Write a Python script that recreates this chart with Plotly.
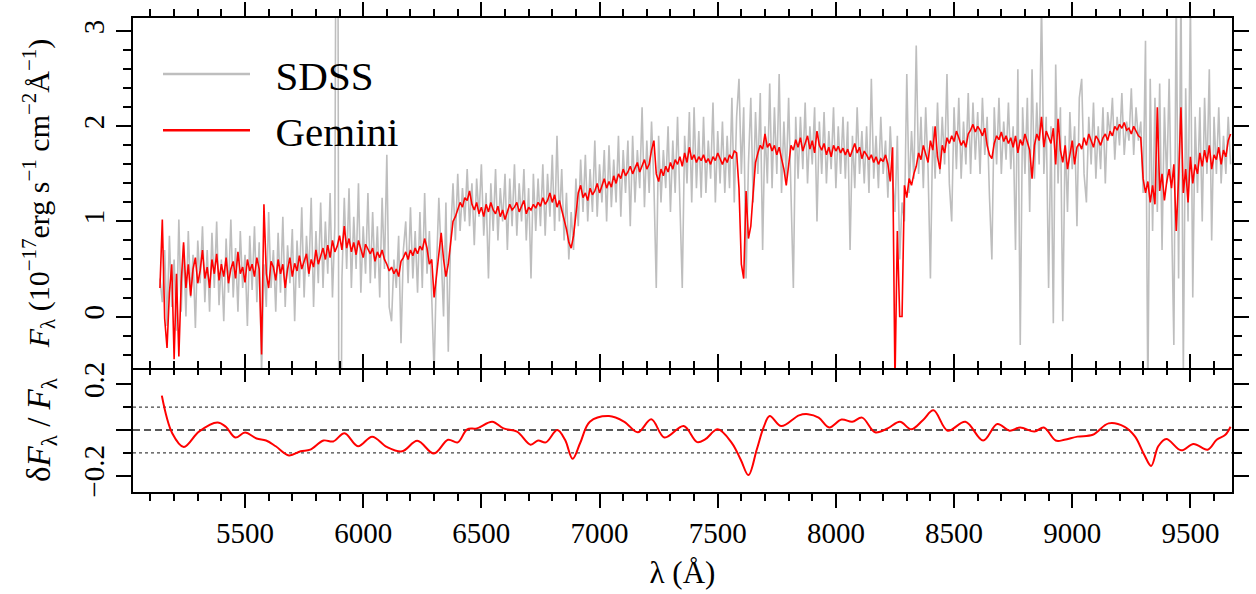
import numpy as np
import plotly.graph_objects as go

# ---------------- data ----------------
WL_START = 5140      # first wavelength of the flux arrays (Angstrom)
WL_STEP = 10         # sampling step of the flux arrays (Angstrom)

SDSS_FLUX = [
    0.40, 0.15, 0.70, -0.10, 0.85, 0.10, 0.60, -0.15, 1.02, 0.05,
    0.75, 0.00, 0.90, 0.20, 0.65, -0.12, 0.80, 0.35, 0.95, 0.15,
    0.70, 0.05, 0.88, 0.30, 1.00, 0.12, 0.60, -0.05, 0.82, 0.25,
    1.02, 0.20, 0.72, 0.05, 0.90, 0.30, 0.65, -0.10, 0.85, 0.28,
    0.95, 0.15, 0.78, -0.60, 0.55, 0.10, 1.10, 0.30, 0.70, 0.05,
    0.88, 0.25, 1.05, 0.10, 0.75, 0.35, 0.92, -0.05, 0.80, 0.30,
    1.15, 0.20, 0.85, 0.42, 1.25, 0.10, 0.90, 0.35, 1.20, 0.30,
    1.00, 0.45, 1.30, 0.20, 0.95, 8.00, -5.00, 0.40, 1.25, 0.50,
    1.35, 0.30, 1.05, 0.50, 1.40, 0.25, 0.95, 0.45, 1.30, 0.35,
    1.10, 0.40, 0.95, 0.20, 1.25, 0.50, 1.70, 0.10, -0.05, 0.60,
    0.30, 0.85, -0.28, 0.70, 1.00, 0.35, 1.15, 0.40, 0.90, 0.25,
    1.10, 0.30, 1.30, 0.45, 0.90, 0.20, -0.60, 0.50, 1.25, 0.65,
    0.00, 1.20, -0.37, 0.85, 1.40, 0.80, 1.50, 0.90, 1.35, 1.00,
    1.55, 0.95, 1.40, 0.75, 1.45, 1.05, 1.60, 0.85, 1.30, 0.40,
    1.40, 0.90, 1.55, 0.80, 1.35, 1.00, 1.50, 0.70, 1.45, 0.95,
    1.60, 0.85, 1.40, 1.00, 1.55, 0.80, 1.35, 0.40, 1.50, 0.90,
    1.45, 0.95, 1.60, 0.85, 1.50, 1.05, 1.70, 0.90, 1.90, 1.00,
    1.55, 0.80, 1.30, 0.60, 1.10, 0.70, 1.45, 0.95, 1.65, 1.10,
    1.70, 1.00, 1.55, 1.10, 1.85, 1.05, 1.60, 1.20, 1.75, 1.00,
    1.80, 1.15, 1.65, 1.20, 1.90, 1.05, 1.75, 1.30, 1.85, 0.95,
    1.90, 1.20, 1.75, 1.35, 2.20, 1.15, 1.85, 1.30, 2.05, 1.40,
    0.30, 1.90, 1.20, 1.75, 1.35, 2.00, 1.10, 1.85, 1.30, 2.10,
    1.25, 0.30, 1.90, 1.40, 2.15, 1.20, 2.20, 1.35, 1.95, 1.25,
    2.10, 1.30, 1.85, 1.45, 2.25, 1.20, 1.95, 1.40, 2.05, 1.30,
    1.90, 1.35, 2.30, 1.20, 2.10, 2.50, 1.50, 2.20, 0.40, 1.60,
    2.30, 1.20, 2.15, 1.50, 2.35, 0.70, 2.00, 1.40, 2.45, 1.35,
    2.20, 1.50, 2.55, 1.30, 2.05, 1.45, 2.30, 1.35, 0.30, 2.10,
    1.45, 2.10, 1.55, 2.25, 1.40, 2.00, 1.60, 2.20, 1.00, 2.05,
    1.50, 2.15, 1.40, 1.95, 1.55, 2.20, 1.35, 2.00, 1.50, 2.10,
    1.45, 2.05, 0.70, 1.90, 1.35, 2.20, 1.50, 1.95, 1.40, 2.00,
    1.30, 2.50, 1.45, 1.90, 1.35, 2.10, 1.50, 1.85, 1.25, 2.00,
    1.45, 1.10, 1.90, 0.60, 1.20, 1.00, 2.55, 1.30, 1.95, 1.45,
    2.85, 1.50, 2.10, 1.35, 2.20, 1.55, 0.40, 2.00, 1.45, 2.25,
    1.50, 2.10, 1.60, 2.55, 1.40, 1.00, 2.20, 1.55, 2.30, 1.45,
    2.05, 1.60, 2.35, 1.50, 2.25, 1.65, 2.15, 1.50, 2.30, 1.70,
    2.10, 1.25, 0.60, 2.20, 1.60, 2.30, 1.50, 2.05, 1.65, 2.25,
    1.55, 2.00, 0.70, 2.60, -0.30, 2.20, 1.50, 2.30, 1.10, 2.60,
    1.45, 2.25, 1.60, 3.30, 1.50, 2.10, 0.30, 2.00, -0.07, 2.65,
    1.40, 2.20, -0.05, 1.90, 1.10, 2.15, 1.55, 2.00, 0.95, 2.30,
    2.50, 1.50, 1.20, 2.10, 1.60, 2.25, 1.45, 2.00, 1.55, 2.20,
    1.40, 2.15, 1.90, 2.30, 1.65, 2.10, 1.80, 2.35, 1.70, 2.05,
    1.85, 2.40, 1.70, 2.20, 1.85, 2.05, 1.30, 2.90, -0.90, 2.50,
    0.90, 2.30, 1.10, 2.45, 0.70, 2.20, 1.40, 2.50, 0.90, -0.30,
    3.40, 0.40, 3.50, -0.60, 2.40, 1.00, 3.30, 0.20, 2.10, 1.30,
    2.20, 1.00, 2.30, 1.50, 2.60, 0.80, 2.10, 1.50, 2.20, 1.40,
    1.90, 1.50, 2.10, 1.60,
]

GEMINI_FLUX = [
    0.30, 1.02, -0.02, -0.33, 0.25, 0.55, -0.45, 0.45, -0.42, 0.36,
    0.78, 0.30, 0.55, 0.22, 0.50, 0.62, 0.35, 0.48, 0.70, 0.40,
    0.52, 0.30, 0.60, 0.45, 0.66, 0.38, 0.55, 0.42, 0.62, 0.35,
    0.50, 0.58, 0.40, 0.68, 0.45, 0.52, 0.36, 0.60, 0.48, 0.55,
    0.42, 0.62, 0.50, -0.40, 1.18, 0.45, 0.30, 0.58, 0.52, 0.38,
    0.60, 0.45, 0.55, 0.30, 0.50, 0.62, 0.42, 0.56, 0.48, 0.64,
    0.50, 0.58, 0.66, 0.45, 0.60, 0.52, 0.70, 0.55, 0.63, 0.72,
    0.60, 0.75, 0.62, 0.80, 0.68, 0.74, 0.85, 0.70, 0.95, 0.72,
    0.82, 0.68, 0.78, 0.65, 0.80, 0.72, 0.62, 0.76, 0.70, 0.66,
    0.72, 0.58, 0.68, 0.62, 0.70, 0.60, 0.55, 0.48, 0.52, 0.45,
    0.50, 0.42, 0.58, 0.62, 0.68, 0.60, 0.70, 0.64, 0.72, 0.66,
    0.74, 0.70, 0.82, 0.72, 0.55, 0.60, 0.20, 0.45, 0.70, 0.88,
    0.60, 0.42, 0.55, 0.80, 1.00, 1.05, 1.12, 1.20, 1.15, 1.25,
    1.22, 1.32, 1.18, 1.12, 1.20, 1.08, 1.15, 1.05, 1.18, 1.10,
    1.20, 1.12, 1.08, 1.16, 1.05, 1.12, 1.02, 1.10, 1.18, 1.12,
    1.15, 1.20, 1.10, 1.16, 1.22, 1.08, 1.15, 1.12, 1.18, 1.14,
    1.20, 1.16, 1.25, 1.18, 1.22, 1.30, 1.20, 1.28, 1.15, 1.22,
    1.12, 1.05, 0.92, 0.78, 0.72, 0.85, 1.10, 1.30, 1.38, 1.25,
    1.30, 1.22, 1.35, 1.28, 1.32, 1.40, 1.30, 1.38, 1.45, 1.35,
    1.42, 1.36, 1.48, 1.40, 1.50, 1.45, 1.55, 1.48, 1.52, 1.58,
    1.50, 1.56, 1.62, 1.52, 1.58, 1.65, 1.55, 1.60, 1.75, 1.85,
    1.50, 1.42, 1.55, 1.48, 1.58, 1.52, 1.62, 1.55, 1.65, 1.60,
    1.68, 1.58, 1.72, 1.62, 1.78, 1.65, 1.70, 1.62, 1.68, 1.64,
    1.70, 1.62, 1.66, 1.60, 1.68, 1.64, 1.72, 1.65, 1.60, 1.67,
    1.62, 1.70, 1.66, 1.74, 1.72, 1.35, 0.55, 0.40, 1.32, 0.82,
    0.95, 1.30, 1.62, 1.72, 1.80, 1.76, 1.92, 1.78, 1.82, 1.74,
    1.80, 1.70, 1.78, 1.66, 1.55, 1.38, 1.62, 1.80, 1.75, 1.86,
    1.78, 1.88, 1.74, 1.82, 1.90, 1.76, 1.85, 1.72, 1.95, 1.80,
    1.75, 1.82, 1.70, 1.78, 1.68, 1.80, 1.74, 1.79, 1.72, 1.77,
    1.70, 1.76, 1.68, 1.75, 1.82, 1.72, 1.78, 1.66, 1.74, 1.70,
    1.65, 1.70, 1.62, 1.68, 1.60, 1.66, 1.63, 1.70, 1.60, 1.42,
    1.78, -0.70, 0.90, 0.00, 0.00, 1.38, 1.25, 1.45, 1.38, 1.50,
    1.58, 1.72, 1.65, 1.80, 1.70, 1.62, 1.85, 1.75, 2.00, 1.68,
    1.55, 1.80, 1.72, 1.88, 1.82, 1.90, 1.84, 1.95, 1.88, 1.80,
    1.85, 1.78, 1.92, 1.96, 2.02, 1.94, 2.00, 1.96, 1.90, 1.98,
    1.80, 1.70, 1.66, 1.82, 1.90, 1.86, 1.94, 1.84, 1.90, 1.82,
    1.88, 1.78, 1.90, 1.72, 1.86, 1.80, 1.92, 1.84, 1.75, 1.45,
    1.80, 1.92, 1.85, 2.10, 1.78, 1.95, 1.88, 1.82, 1.98, 1.60,
    2.08, 1.75, 1.62, 1.80, 1.55, 1.72, 1.85, 1.60, 1.78, 1.82,
    1.76, 1.88, 1.80, 1.92, 1.84, 1.78, 1.90, 1.86, 1.80, 1.88,
    1.92, 1.85, 1.95, 1.90, 2.00, 1.96, 2.02, 1.98, 2.04, 1.96,
    1.98, 1.92, 2.00, 1.95, 1.90, 1.88, 1.45, 1.30, 1.42, 1.20,
    1.38, 1.18, 2.20, 1.32, 1.50, 1.22, 1.42, 1.55, 1.35, 1.60,
    0.90, 1.45, 2.20, 1.30, 1.55, 1.20, 1.68, 1.40, 1.60, 1.50,
    1.72, 1.58, 1.75, 1.62, 1.80, 1.55, 1.70, 1.65, 1.78, 1.60,
    1.75, 1.68, 1.85, 1.92,
]

RES_WL = [5148, 5192, 5241, 5305, 5383, 5419, 5459, 5500, 5549, 5589,
          5630, 5686, 5735, 5776, 5832, 5873, 5921, 5978, 6038, 6100,
          6165, 6229, 6299, 6359, 6400, 6440, 6481, 6546, 6594, 6651,
          6708, 6740, 6773, 6821, 6854, 6886, 6918, 6959, 7040, 7105,
          7162, 7219, 7275, 7356, 7413, 7448, 7500, 7560, 7597, 7630,
          7665, 7695, 7720, 7769, 7844, 7882, 7927, 7972, 8024, 8069,
          8111, 8166, 8219, 8271, 8319, 8368, 8413, 8473, 8548, 8623,
          8683, 8735, 8780, 8840, 8880, 8930, 8967, 9022, 9087, 9154,
          9222, 9266, 9304, 9334, 9364, 9398, 9461, 9513, 9573, 9611,
          9648, 9670]
RES_VAL = [0.150, -0.014, -0.074, -0.007, 0.033, 0.014, -0.033, -0.011, -0.037, -0.046,
           -0.071, -0.111, -0.093, -0.086, -0.046, -0.050, -0.014, -0.071, -0.029, -0.074,
           -0.093, -0.047, -0.103, -0.043, -0.054, 0.003, 0.007, 0.036, 0.007, -0.007,
           -0.064, -0.046, -0.054, 0.000, -0.043, -0.126, -0.057, 0.036, 0.061, 0.036,
           -0.010, 0.047, -0.033, 0.017, -0.053, -0.040, 0.003, -0.057, -0.129, -0.197,
           -0.086, 0.014, 0.061, 0.017, 0.064, 0.069, 0.054, 0.011, 0.046, 0.036,
           0.054, -0.010, 0.007, 0.036, 0.003, 0.043, 0.086, -0.003, 0.036, -0.046,
           0.026, -0.003, 0.011, -0.007, 0.011, -0.046, -0.043, -0.029, -0.021, 0.029,
           0.014, -0.029, -0.107, -0.157, -0.071, -0.039, -0.089, -0.061, -0.086, -0.043,
           -0.021, 0.014]

REF_DASHED = [0.0]
REF_DOTTED = [0.1, -0.1]

X_RANGE = [5026, 9676]
Y1_RANGE = [-0.541, 3.139]
Y2_RANGE = [-0.271, 0.271]
Y1_TICKS = [0, 1, 2, 3]
Y2_TICKS = [-0.2, 0, 0.2]
Y2_TICKTEXT = ["\u22120.2", "", "0.2"]
LEGEND_NAMES = ["\u00a0\u00a0SDSS", "\u00a0\u00a0Gemini"]

# ---------------- figure ----------------
FONT = "Liberation Serif"
GRAY = "#bebebe"
RED = "#ff0000"

wl_sdss = WL_START + WL_STEP * np.arange(len(SDSS_FLUX))
wl_gem = WL_START + WL_STEP * np.arange(len(GEMINI_FLUX))

fig = go.Figure()
fig.add_trace(go.Scatter(x=wl_sdss, y=SDSS_FLUX, mode="lines", showlegend=False,
                         line=dict(color=GRAY, width=1.6), xaxis="x3", yaxis="y"))
fig.add_trace(go.Scatter(x=wl_gem, y=GEMINI_FLUX, mode="lines", showlegend=False,
                         line=dict(color=RED, width=1.6), xaxis="x3", yaxis="y"))
# legend entries
fig.add_trace(go.Scatter(x=[None], y=[None], mode="lines", name=LEGEND_NAMES[0],
                         line=dict(color=GRAY, width=2.5), xaxis="x3", yaxis="y"))
fig.add_trace(go.Scatter(x=[None], y=[None], mode="lines", name=LEGEND_NAMES[1],
                         line=dict(color=RED, width=2.5), xaxis="x3", yaxis="y"))
# residual panel
fig.add_trace(go.Scatter(x=RES_WL, y=RES_VAL, mode="lines", showlegend=False,
                         line=dict(color=RED, width=2, shape="spline", smoothing=1.0),
                         xaxis="x", yaxis="y2"))
# empty traces so that the overlaid tick-only axes get their subplots
fig.add_trace(go.Scatter(x=[None], y=[None], mode="lines", showlegend=False,
                         xaxis="x2", yaxis="y2", hoverinfo="skip"))
fig.add_trace(go.Scatter(x=[None], y=[None], mode="lines", showlegend=False,
                         xaxis="x4", yaxis="y", hoverinfo="skip"))

for v in REF_DOTTED:
    fig.add_shape(type="line", xref="x domain", x0=0, x1=1, yref="y2", y0=v, y1=v,
                  layer="below", line=dict(color="#444444", width=1.3, dash="dot"))
for v in REF_DASHED:
    fig.add_shape(type="line", xref="x domain", x0=0, x1=1, yref="y2", y0=v, y1=v,
                  layer="below", line=dict(color="#222222", width=1.4, dash="7px,4px"))

TICKW = 1.6
tickfont = dict(family=FONT, size=29, color="black")


def xaxis(anchor, side, ticks, labels, overlaying=None, title=None, line=True):
    d = dict(anchor=anchor, side=side, range=X_RANGE, domain=[0, 1], automargin=False,
             showgrid=False, zeroline=False, showline=line, linecolor="black", linewidth=2,
             ticks=ticks, tickmode="linear", tick0=5000, dtick=500, ticklen=14,
             tickwidth=TICKW, tickcolor="black", showticklabels=labels, tickfont=tickfont,
             minor=dict(ticks=ticks, tick0=5000, dtick=100, ticklen=7, tickwidth=TICKW,
                        tickcolor="black", showgrid=False))
    if overlaying:
        d["overlaying"] = overlaying
    if title:
        d["title"] = dict(text=title, font=dict(family=FONT, size=31, color="black"), standoff=14)
    return d


TOP_FRAC = 124 / 474

fig.update_layout(
    width=1256, height=594,
    margin=dict(l=133, r=24, t=18, b=102, autoexpand=False),
    paper_bgcolor="white", plot_bgcolor="white",
    font=dict(family=FONT, color="black"),
    showlegend=True,
    xaxis=xaxis("y2", "bottom", "outside", True, title="\u03bb (\u00c5)"),
    xaxis2=xaxis("y2", "top", "inside", False, overlaying="x", line=False),
    xaxis3=xaxis("y", "bottom", "inside", False),
    xaxis4=xaxis("y", "top", "outside", False, overlaying="x3"),
    yaxis=dict(anchor="x3", domain=[TOP_FRAC, 1], range=Y1_RANGE, automargin=False,
               showgrid=False, zeroline=False, showline=True, linecolor="black", linewidth=2,
               mirror="ticks", ticks="outside", tickvals=Y1_TICKS, ticklen=15,
               tickwidth=TICKW, tickcolor="black", tickangle=-90, tickfont=tickfont,
               minor=dict(ticks="outside", tick0=0, dtick=0.2, ticklen=8, tickwidth=TICKW,
                          tickcolor="black", showgrid=False),
               title=dict(text="<i>F</i><sub>\u03bb</sub> (10<sup>\u221217</sup>erg s<sup>\u22121</sup> "
                               "cm<sup>\u22122</sup>\u00c5<sup>\u22121</sup>)",
                          font=dict(family=FONT, size=30, color="black"), standoff=20)),
    yaxis2=dict(anchor="x", domain=[0, TOP_FRAC], range=Y2_RANGE, automargin=False,
                showgrid=False, zeroline=False, showline=True, linecolor="black", linewidth=2,
                mirror="ticks", ticks="outside", tickvals=Y2_TICKS, ticktext=Y2_TICKTEXT,
                ticklen=15, tickwidth=TICKW, tickcolor="black", tickangle=-90, tickfont=tickfont,
                minor=dict(ticks="outside", tick0=0, dtick=0.1, ticklen=8, tickwidth=TICKW,
                           tickcolor="black", showgrid=False),
                title=dict(text="\u03b4<i>F</i><sub>\u03bb</sub> / <i>F</i><sub>\u03bb</sub>",
                           font=dict(family=FONT, size=33, color="black"), standoff=18)),
    legend=dict(x=(158 - 133) / 1099, y=0.952, xanchor="left", yanchor="top",
                font=dict(family=FONT, size=41, color="black"),
                bgcolor="rgba(0,0,0,0)", itemwidth=87, tracegroupgap=0),
)

fig.write_html("out.html")
